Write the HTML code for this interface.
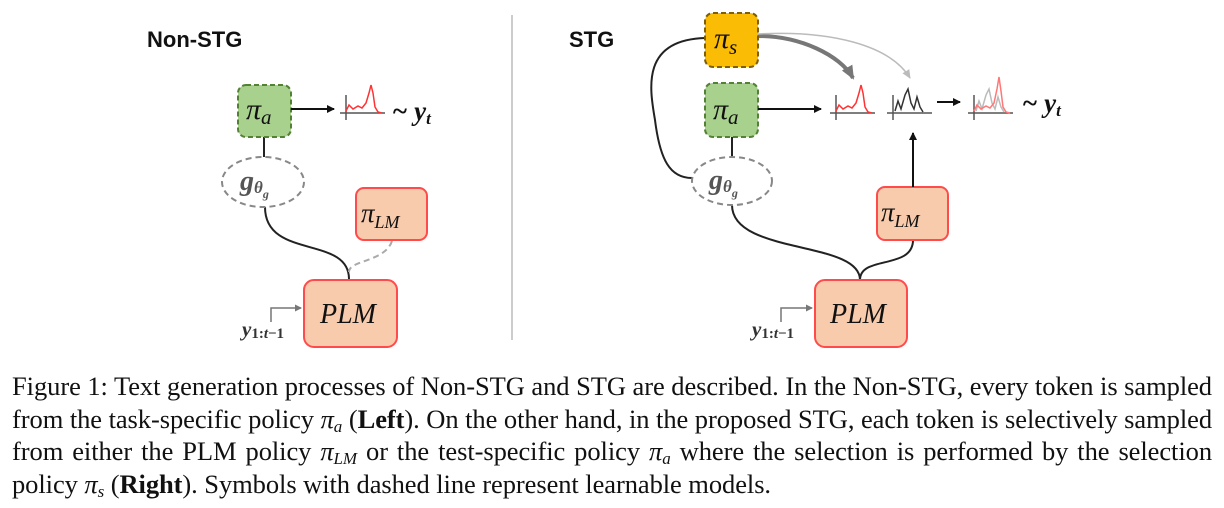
<!DOCTYPE html>
<html><head><meta charset="utf-8"><style>
body{margin:0;background:#fff;width:1224px;height:508px;overflow:hidden;position:relative}
svg{position:absolute;left:0;top:0}
.cap{position:absolute;left:12px;width:1200px;font-family:"Liberation Serif",serif;font-size:26.5px;letter-spacing:-0.07px;color:#111;line-height:32.5px;top:370px;text-align:justify}
.cap div{text-align:justify;text-align-last:justify;white-space:nowrap}
.cap div.last{text-align-last:left}
i{font-style:italic}
sub{font-size:17px;vertical-align:-4px;line-height:0}
</style></head><body>
<svg width="1224" height="370" viewBox="0 0 1224 370">
<defs>
<marker id="ah" markerWidth="8" markerHeight="8" refX="7" refY="4" orient="auto" markerUnits="userSpaceOnUse"><path d="M0,0 L8,4 L0,8 z" fill="#111"/></marker>
<marker id="ahg" markerWidth="14" markerHeight="12" refX="12" refY="6" orient="auto" markerUnits="userSpaceOnUse"><path d="M0,0 L14,6 L0,12 z" fill="#777"/></marker>
<marker id="ahl" markerWidth="10" markerHeight="8" refX="8" refY="4" orient="auto" markerUnits="userSpaceOnUse"><path d="M0,0 L9,4 L0,8 z" fill="#bbb"/></marker>
<marker id="ahs" markerWidth="7" markerHeight="7" refX="6" refY="3.5" orient="auto" markerUnits="userSpaceOnUse"><path d="M0,0 L7,3.5 L0,7 z" fill="#777"/></marker>
<g id="axis"><line x1="0" y1="28" x2="45" y2="28" stroke="#555" stroke-width="1.5"/><line x1="6" y1="10" x2="6" y2="35" stroke="#555" stroke-width="1.5"/></g>
</defs>
<g font-family="Liberation Sans,sans-serif" font-weight="bold" font-size="22" fill="#111">
<text x="147" y="47">Non-STG</text><text x="569" y="47">STG</text></g>
<line x1="512" y1="15" x2="512" y2="340" stroke="#ccc" stroke-width="2"/>
<line x1="264" y1="137" x2="264" y2="157" stroke="#222" stroke-width="2"/>
<path d="M265,207 C265,260 349,235 349,279" fill="none" stroke="#222" stroke-width="2"/>
<path d="M392,241 C385,262 349,260 349,272" fill="none" stroke="#aaa" stroke-width="2" stroke-dasharray="6,4"/>
<rect x="238" y="85" width="53" height="52" rx="8" fill="#a9d18e" stroke="#548235" stroke-width="2" stroke-dasharray="5,3"/>
<ellipse cx="263" cy="182" rx="41" ry="25" fill="#fff" stroke="#888" stroke-width="2" stroke-dasharray="6,4"/>
<rect x="356" y="188" width="71" height="52" rx="8" fill="#f8cbad" stroke="#ff4b4b" stroke-width="2"/>
<rect x="304" y="280" width="93" height="67" rx="10" fill="#f8cbad" stroke="#ff4b4b" stroke-width="2"/>
<line x1="291" y1="109" x2="334" y2="109" stroke="#111" stroke-width="2" marker-end="url(#ah)"/>
<g transform="translate(340,85)"><use href="#axis"/><path d="M6,26 L9,20 L13,24 L18,21 L22,23 L26,18 L29,8 L31,0 L33,8 L35,22 L38,27 L42,28" fill="none" stroke="#ff3333" stroke-width="1.5"/></g>
<path d="M271,322 L271,308 L301,308" fill="none" stroke="#777" stroke-width="1.5" marker-end="url(#ahs)"/>
<line x1="732" y1="137" x2="732" y2="157" stroke="#222" stroke-width="2"/>
<path d="M705,38 C640,40 650,90 655,120 C660,160 670,178 692,178" fill="none" stroke="#222" stroke-width="2"/>
<path d="M732,205 C732,255 860,240 860,280" fill="none" stroke="#222" stroke-width="2"/>
<path d="M913,240 C913,270 860,255 860,280" fill="none" stroke="#222" stroke-width="2"/>
<path d="M758,36 C800,36 840,55 853,78" fill="none" stroke="#777" stroke-width="4" marker-end="url(#ahg)"/>
<path d="M758,34 C830,30 890,45 910,78" fill="none" stroke="#bbb" stroke-width="1.5" marker-end="url(#ahl)"/>
<rect x="705" y="13" width="53" height="54" rx="8" fill="#fbbc05" stroke="#7f6000" stroke-width="2" stroke-dasharray="5,3"/>
<rect x="705" y="83" width="53" height="54" rx="8" fill="#a9d18e" stroke="#548235" stroke-width="2" stroke-dasharray="5,3"/>
<ellipse cx="732" cy="181" rx="40" ry="24" fill="#fff" stroke="#888" stroke-width="2" stroke-dasharray="6,4"/>
<rect x="877" y="187" width="71" height="53" rx="8" fill="#f8cbad" stroke="#ff4b4b" stroke-width="2"/>
<rect x="815" y="280" width="92" height="67" rx="10" fill="#f8cbad" stroke="#ff4b4b" stroke-width="2"/>
<line x1="758" y1="109" x2="821" y2="109" stroke="#111" stroke-width="2" marker-end="url(#ah)"/>
<line x1="913" y1="187" x2="913" y2="133" stroke="#111" stroke-width="2" marker-end="url(#ah)"/>
<line x1="937" y1="102" x2="960" y2="102" stroke="#111" stroke-width="2" marker-end="url(#ah)"/>
<g transform="translate(830,85)"><use href="#axis"/><path d="M6,26 L9,20 L13,24 L18,21 L22,23 L26,18 L29,8 L31,0 L33,8 L35,22 L38,27 L42,28" fill="none" stroke="#ff3333" stroke-width="1.5"/></g>
<g transform="translate(887,85)"><use href="#axis"/><path d="M8,26 L11,16 L14,24 L18,10 L21,4 L24,18 L27,24 L30,12 L33,22 L36,27" fill="none" stroke="#333" stroke-width="1.5"/></g>
<g transform="translate(968,85)"><use href="#axis"/><path d="M8,26 L11,16 L14,24 L18,10 L21,4 L24,18 L27,24 L30,12 L33,22 L36,27" fill="none" stroke="#bbb" stroke-width="1.5"/><path d="M6,26 L9,20 L13,24 L18,21 L22,23 L26,18 L29,4 L31,-8 L33,6 L35,22 L38,27 L42,28" fill="none" stroke="#ff7777" stroke-width="1.5"/></g>
<path d="M781,322 L781,308 L812,308" fill="none" stroke="#777" stroke-width="1.5" marker-end="url(#ahs)"/>
<g font-family="Liberation Serif,DejaVu Serif,serif" font-style="italic" fill="#111">
<text x="246" y="119" font-size="30">π<tspan font-size="21" dy="5">a</tspan></text>
<text x="713" y="119" font-size="30">π<tspan font-size="21" dy="5">a</tspan></text>
<text x="714" y="48" font-size="30">π<tspan font-size="21" dy="6">s</tspan></text>
<text x="361" y="222" font-size="27">π<tspan font-size="18" dy="6">LM</tspan></text>
<text x="881" y="221" font-size="27">π<tspan font-size="18" dy="6">LM</tspan></text>
<text x="320" y="323" font-size="28">PLM</text>
<text x="830" y="323" font-size="28">PLM</text>
<g fill="#555" font-weight="bold"><text x="240" y="190" font-size="28">g<tspan font-size="17" dy="3">θ</tspan><tspan font-size="12" dy="5">g</tspan></text>
<text x="709" y="189" font-size="28">g<tspan font-size="17" dy="3">θ</tspan><tspan font-size="12" dy="5">g</tspan></text></g>
<g font-weight="bold"><text x="392" y="120" font-size="27">~ y<tspan font-size="17" dy="4">t</tspan></text>
<text x="1022" y="112" font-size="27">~ y<tspan font-size="17" dy="4">t</tspan></text>
<g fill="#333"><text x="242" y="336" font-size="21">y<tspan font-size="15" dy="2" font-style="normal">1:</tspan><tspan font-size="15">t</tspan><tspan font-size="15" font-style="normal">−1</tspan></text>
<text x="752" y="336" font-size="21">y<tspan font-size="15" dy="2" font-style="normal">1:</tspan><tspan font-size="15">t</tspan><tspan font-size="15" font-style="normal">−1</tspan></text></g></g>
</g>
</svg>
<div class="cap">
<div>Figure 1: Text generation processes of Non-STG and STG are described. In the Non-STG, every token is sampled</div>
<div>from the task-specific policy <i>π<sub>a</sub></i> (<b>Left</b>). On the other hand, in the proposed STG, each token is selectively sampled</div>
<div>from either the PLM policy <i>π<sub>LM</sub></i> or the test-specific policy <i>π<sub>a</sub></i> where the selection is performed by the selection</div>
<div class="last">policy <i>π<sub>s</sub></i> (<b>Right</b>). Symbols with dashed line represent learnable models.</div>
</div>
</body></html>
